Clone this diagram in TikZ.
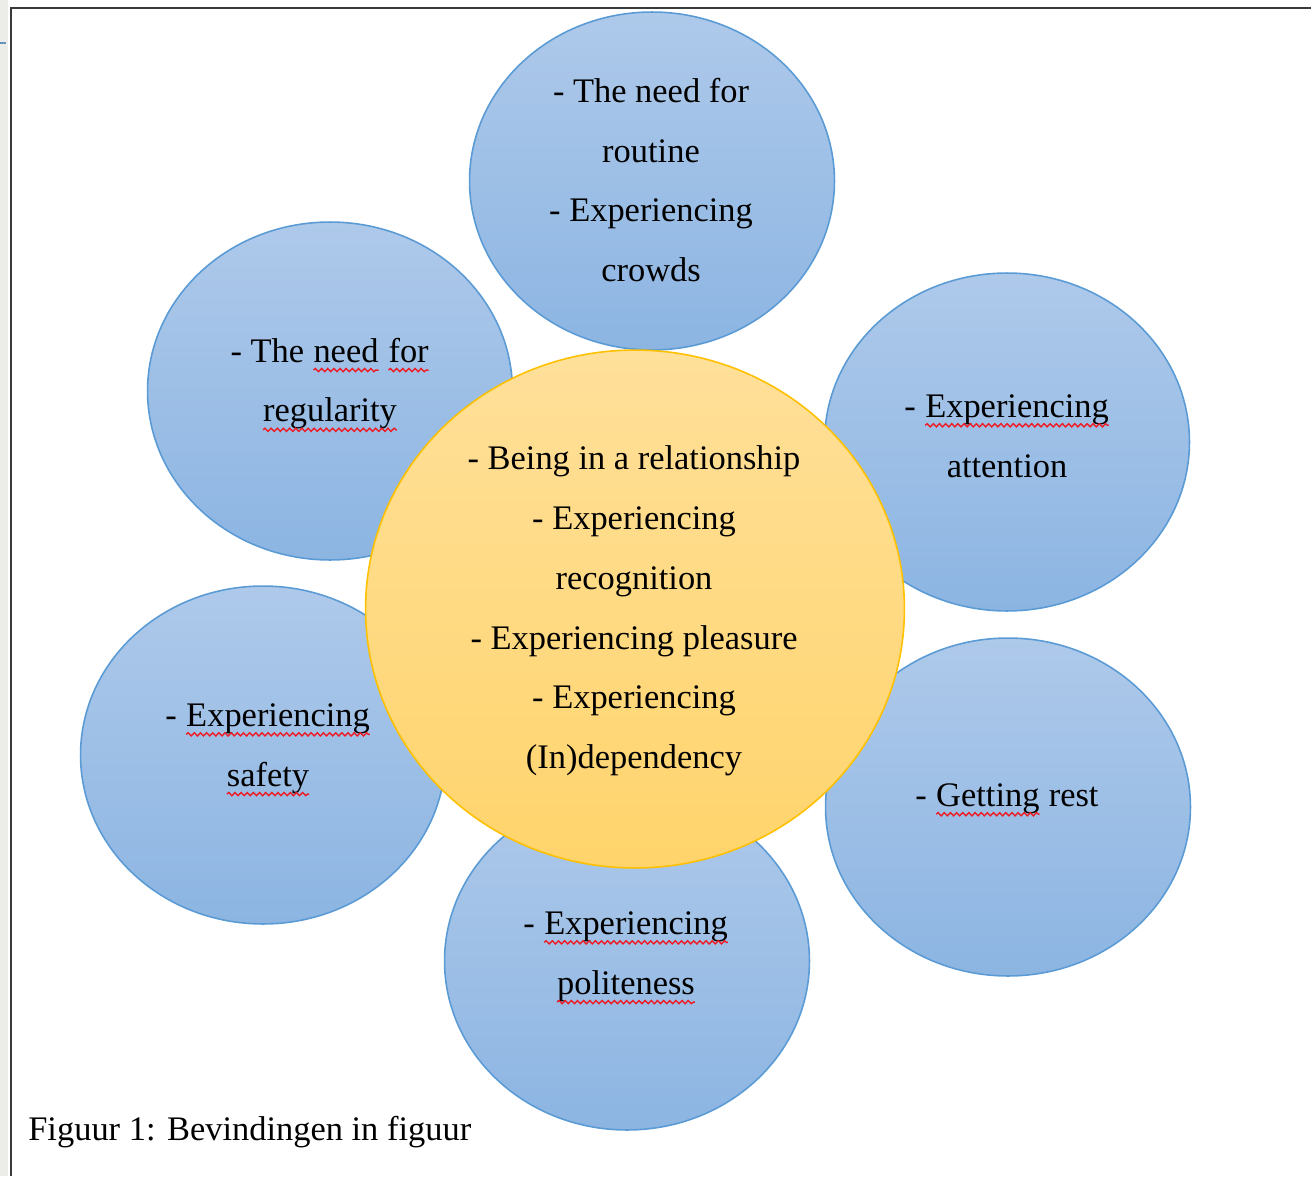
\documentclass[tikz,border=0pt]{standalone}
\usepackage{fontspec}
\setmainfont{Liberation Serif}
\usetikzlibrary{shapes.geometric, decorations.pathmorphing}

\definecolor{bubbletop}{HTML}{AEC9EA}
\definecolor{bubblebot}{HTML}{8CB5E2}
\definecolor{bubbleline}{HTML}{5B9BD5}
\definecolor{coretop}{HTML}{FFE09A}
\definecolor{corebot}{HTML}{FFD46C}
\definecolor{coreline}{HTML}{FFC000}
\definecolor{spellred}{HTML}{EE1C25}
\definecolor{framegray}{HTML}{3A3A3A}
\definecolor{sidegray}{HTML}{ECECE8}

\newcommand{\spell}[1]{\tikz[baseline=(w.base)]{\node[inner sep=0pt, outer sep=0pt] (w) {#1};
  \draw[spellred, line width=0.8pt, decorate, decoration={snake, amplitude=0.9pt, segment length=3.5pt}] ([yshift=-4.5pt]w.base west) -- ([yshift=-4.5pt]w.base east);}}

\begin{document}
\begin{tikzpicture}[x=0.02cm, y=-0.02cm,
  bubble/.style={ellipse, draw=bubbleline, line width=0.9pt, top color=bubbletop, bottom color=bubblebot, minimum width=7.3cm, minimum height=6.76cm, inner sep=0pt},
  core/.style={ellipse, draw=coreline, line width=0.9pt, top color=coretop, bottom color=corebot, minimum width=10.78cm, minimum height=10.36cm, inner sep=0pt},
  txt/.style={align=center, font=\fontsize{19.6}{34}\selectfont, inner sep=0pt}]
\useasboundingbox (0,0) rectangle (1311,1176);
\fill[sidegray] (0,0) rectangle (8,1176);
\draw[bubbleline!70!gray, line width=1pt] (0,43) -- (6,43);
\draw[framegray, line width=1.2pt] (11,1176) -- (11,8) -- (1311,8);

\node[bubble] (routine) at (652,181) {};
\node[bubble] (regularity) at (330,391) {};
\node[bubble] (attention) at (1007,442) {};
\node[bubble] (safety) at (263,755) {};
\node[bubble] (politeness) at (627,961) {};
\node[bubble] (rest) at (1008,807) {};
\node[core] (self) at (635,609) {};

\node[txt] (routine-t) at (651,180) {- The need for\\routine\\- Experiencing\\crowds};
\node[txt] (regularity-t) at (330,385) {- The \spell{need} \spell{for}\\\spell{regularity}};
\node[txt] (attention-t) at (1007,436) {- \spell{Experiencing}\\attention};
\node[txt] (safety-t) at (268,750) {- \spell{Experiencing}\\\spell{safety}};
\node[txt] (politeness-t) at (626,958) {- \spell{Experiencing}\\\spell{politeness}};
\node[txt] (rest-t) at (1007,800) {- \spell{Getting} rest};
\node[txt] (self-t) at (634,611) {- Being in a relationship\\- Experiencing\\recognition\\- Experiencing pleasure\\- Experiencing\\(In)dependency};

\node[txt, anchor=base west] (caption) at (28,1140) {Figuur 1: Bevindingen in figuur};
\end{tikzpicture}
\end{document}
